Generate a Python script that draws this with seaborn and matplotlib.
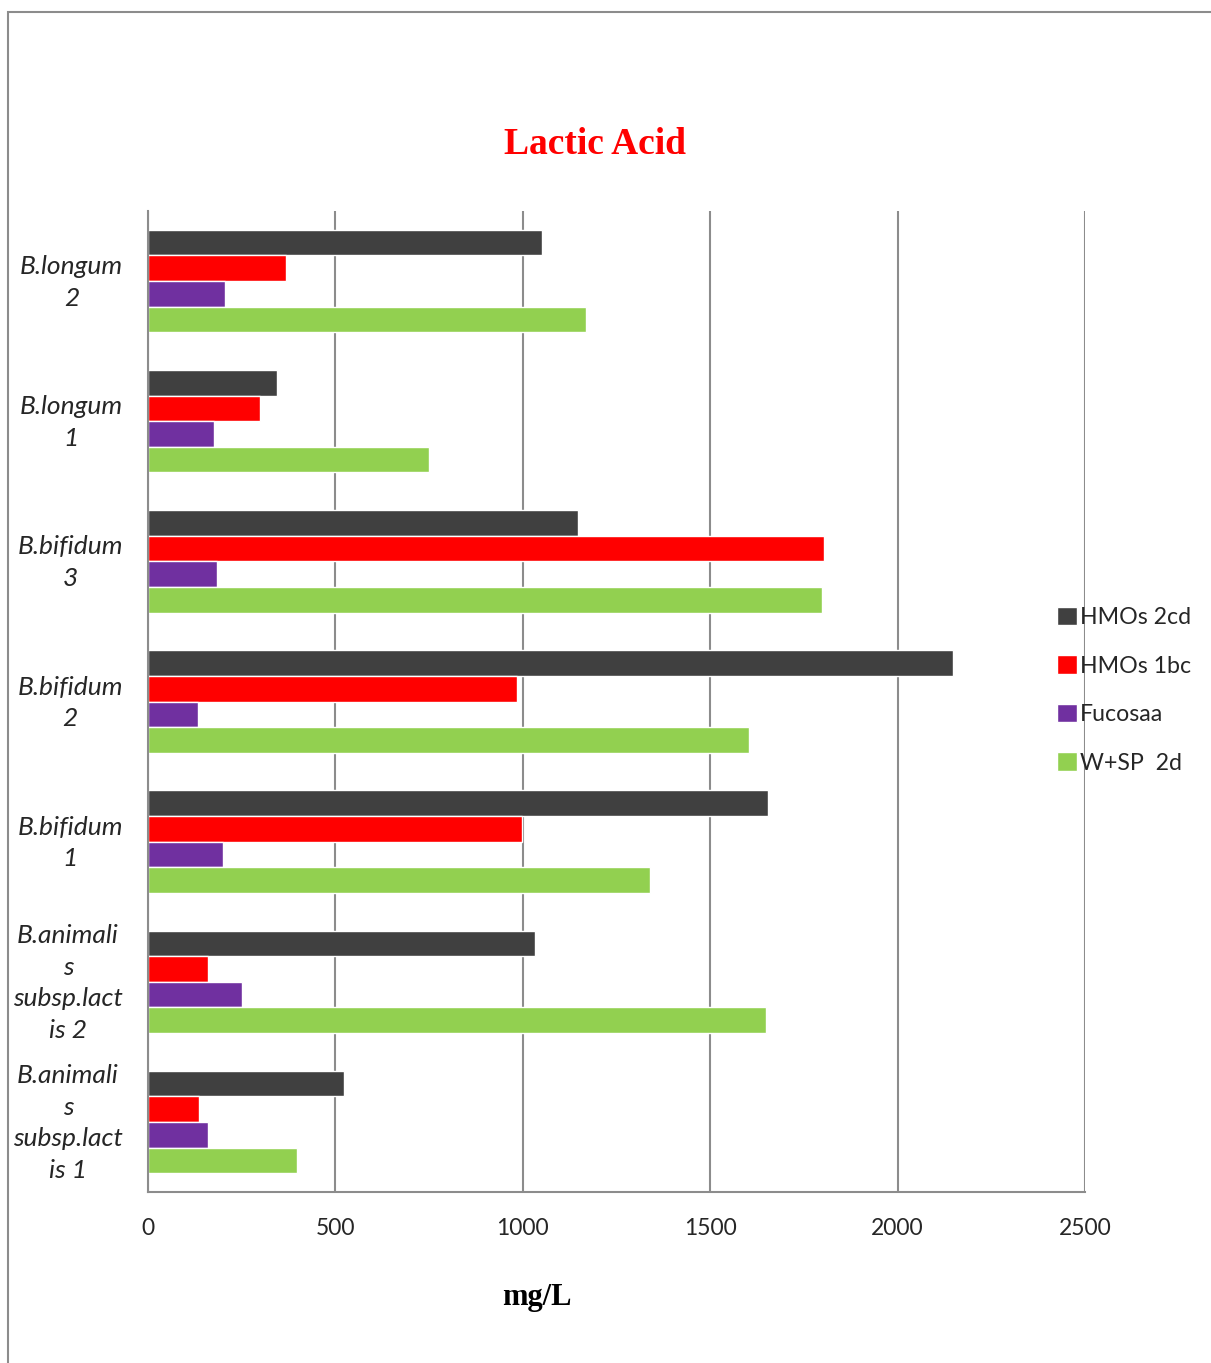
import matplotlib
matplotlib.use("Agg")
import matplotlib.pyplot as plt
import matplotlib.transforms as mtransforms
from matplotlib.patches import Rectangle
from matplotlib.ticker import FixedLocator
import seaborn as sns
import pandas as pd

strains = ["B.longum\n2", "B.longum\n1", "B.bifidum\n3", "B.bifidum\n2", "B.bifidum\n1",
           "B.animali\ns\nsubsp.lact\nis 2", "B.animali\ns\nsubsp.lact\nis 1"]
series = ["HMOs 2cd", "HMOs 1bc", "Fucosaa", "W+SP  2d"]
hmos_2cd = [1050, 345, 1148, 2148, 1654, 1033, 523]
hmos_1bc = [368, 299, 1804, 985, 998, 160, 136]
fucosaa = [205, 176, 184, 133, 200, 251, 160]
wsp_2d = [1169, 750, 1798, 1604, 1339, 1649, 398]
colors = ["#404040", "#FF0000", "#7030A0", "#92D050"]

rows = []
for name, vals in zip(series, [hmos_2cd, hmos_1bc, fucosaa, wsp_2d]):
    for s, v in zip(strains, vals):
        rows.append({"strain": s, "series": name, "value": v})
df = pd.DataFrame(rows)

sns.set_style("white")
W, H = 1211, 1363
fig = plt.figure(figsize=(W / 100, H / 100), dpi=100)
ax = fig.add_axes([148 / W, 1 - 1192 / H, (1085 - 148) / W, (1192 - 211) / H])

sns.barplot(data=df, y="strain", x="value", hue="series", orient="h",
            order=strains, hue_order=series, palette=colors, width=0.73,
            saturation=1, edgecolor="white", linewidth=1, ax=ax, legend=True)

ax.set_xlim(0, 2500)
ax.set_ylim(len(strains) - 0.5, -0.5)
ax.set_xticks([0, 500, 1000, 1500, 2000, 2500])
ax.xaxis.grid(True, color="#8c8c8c", linewidth=1.5)
ax.set_axisbelow(True)
for side in ["top", "right"]:
    ax.spines[side].set_visible(False)
for side in ["left", "bottom"]:
    ax.spines[side].set_color("#8c8c8c")
    ax.spines[side].set_linewidth(1.5)

ax.tick_params(axis="x", length=6, width=1.5, color="#8c8c8c", pad=13,
               labelsize=16.5)
for t in ax.get_xticklabels():
    t.set_family("Lato")
ax.yaxis.set_minor_locator(FixedLocator([i - 0.5 for i in range(len(strains) + 1)]))
ax.tick_params(axis="y", which="minor", length=6, width=1.5, color="#8c8c8c")
ax.tick_params(axis="y", which="major", length=0, pad=18, labelsize=19)
shift = mtransforms.ScaledTranslation(0, 5 / 100, fig.dpi_scale_trans)
for t in ax.get_yticklabels():
    t.set_family("Lato")
    t.set_style("italic")
    t.set_multialignment("center")
    t.set_linespacing(1.45)
    t.set_transform(t.get_transform() + shift)

ax.set_xlabel("")
ax.set_ylabel("")

handles, labels = ax.get_legend_handles_labels()
leg = ax.legend(handles, labels, loc="upper left", bbox_to_anchor=(1057 / W, 1 - 607 / H),
                bbox_transform=fig.transFigure, frameon=False,
                prop={"family": "Lato", "size": 16.7}, handlelength=0.85, handleheight=0.85,
                handletextpad=0.15, labelspacing=1.17, borderaxespad=0, borderpad=0)

fig.text(595 / W, 1 - 145 / H, "Lactic Acid", color="#FF0000", fontsize=27,
         fontweight="bold", family="Liberation Serif", ha="center", va="center")
fig.text(537 / W, 1 - 1297 / H, "mg/L", color="black", fontsize=22,
         fontweight="bold", family="Liberation Serif", ha="center", va="center")

fig.patches.append(Rectangle((8 / W, -0.1), 1.2, 1 - 12 / H + 0.1, transform=fig.transFigure,
                             fill=False, edgecolor="#8c8c8c", linewidth=1.5))

fig.savefig("out.png", dpi=100, facecolor="white")
